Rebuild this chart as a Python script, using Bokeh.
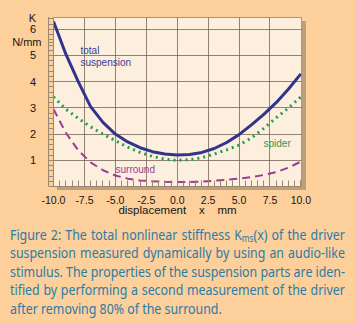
import numpy as np
from bokeh.plotting import figure
from bokeh.models import Range1d, FixedTicker, NumeralTickFormatter, Label, Div, InlineStyleSheet
from bokeh.layouts import column
from bokeh.embed import file_html
from bokeh.resources import INLINE

# stiffness K (N/mm) versus displacement x (mm)
disp = [-10, -9, -8, -7, -6, -5, -4, -3, -2, -1, 0, 1, 2, 3, 4, 5, 6, 7, 8, 9, 10]
k_total = [6.30, 5.05, 4.00, 3.05, 2.45, 2.00, 1.70, 1.48, 1.33, 1.24, 1.20,
           1.22, 1.30, 1.45, 1.68, 1.98, 2.35, 2.75, 3.20, 3.72, 4.30]
k_spider = [3.42, 2.95, 2.60, 2.28, 2.00, 1.75, 1.50, 1.30, 1.15, 1.04, 1.00,
            1.02, 1.10, 1.24, 1.40, 1.58, 1.85, 2.22, 2.62, 3.00, 3.42]
k_surround = [2.95, 2.05, 1.38, 0.92, 0.62, 0.42, 0.30, 0.23, 0.20, 0.18, 0.17,
              0.17, 0.19, 0.22, 0.26, 0.30, 0.36, 0.44, 0.55, 0.72, 0.95]

x_ticks = [-10, -7.5, -5, -2.5, 0, 2.5, 5, 7.5, 10]
y_ticks = [1, 2, 3, 4, 5, 6]
# unit caption sits in the tick-label column of the y axis
y_unit_ticks = {5.5: "N/mm", 6.42: "K\u2002"}

PEACH = "#FDCF9B"
CREAM = "#FCEFDE"
BROWN = "#9c8870"
SHADOW = "#bd9f7e"
FONT = "Liberation Sans"
EN = "\u2002"
NB = "\u00a0"

p = figure(width=355, height=220, x_range=Range1d(-10, 10.05), y_range=Range1d(0, 6.45),
           output_backend="svg", toolbar_location=None,
           min_border_left=53, min_border_right=54, min_border_top=17, min_border_bottom=34,
           background_fill_color=CREAM, border_fill_color=PEACH,
           outline_line_color="#a89880", outline_line_width=1)
p.title.visible = False

# drop shadow under the right and bottom edges of the frame
p.stylesheets = [InlineStyleSheet(css=f"""
:host::before {{ content: ""; position: absolute; z-index: 5; left: 302px; top: 21px;
                 width: 4px; height: 169px; background: {SHADOW}; }}
:host::after  {{ content: ""; position: absolute; z-index: 5; left: 57px; top: 187px;
                 width: 249px; height: 3px; background: {SHADOW}; }}
""")]

# grid
p.xgrid.ticker = FixedTicker(ticks=x_ticks[1:-1])
p.ygrid.ticker = FixedTicker(ticks=y_ticks)
p.grid.grid_line_color = "#6e5e50"
p.grid.grid_line_alpha = 0.75
p.grid.grid_line_width = 1

# x axis: ticks point into the frame
xa = p.xaxis[0]
xa.ticker = FixedTicker(ticks=x_ticks, minor_ticks=list(np.arange(-10, 10.01, 0.5)))
xa.formatter = NumeralTickFormatter(format="0.0")
xa.major_tick_in = 6
xa.major_tick_out = 0
xa.minor_tick_in = 6
xa.minor_tick_out = 0
xa.major_label_standoff = 9
xa.major_label_text_font_size = "10.5px"
xa.axis_label = f"displacement{NB*4}x{NB*4}mm"
xa.axis_label_text_font = FONT
xa.axis_label_text_font_size = "11.5px"
xa.axis_label_text_font_style = "normal"
xa.axis_label_text_color = "#151515"
xa.axis_label_standoff = -3

# y axis: ruler-like ticks outside the frame
ya = p.yaxis[0]
ya.ticker = FixedTicker(ticks=y_ticks + list(y_unit_ticks),
                        minor_ticks=list(np.arange(0, 6.45, 0.2)))
ya.major_label_overrides = {**{t: f"{t}{EN}" for t in y_ticks}, **y_unit_ticks}
ya.major_tick_in = 0
ya.major_tick_out = 5
ya.minor_tick_in = 0
ya.minor_tick_out = 5
ya.major_label_standoff = 7
ya.major_label_text_font_size = "11px"

for ax in (xa, ya):
    ax.axis_line_color = BROWN
    ax.major_tick_line_color = BROWN
    ax.minor_tick_line_color = BROWN
    ax.major_label_text_font = FONT
    ax.major_label_text_color = "#151515"

# curves
p.line(disp, k_surround, line_color="#9b3c99", line_width=2, line_dash="8 5")
p.line(disp, k_spider, line_color="#1f9e4e", line_width=3, line_dash="2 4")
p.line(disp, k_total, line_color="#33338c", line_width=3)

def lab(text, x, y, color):
    p.add_layout(Label(x=x, y=y, x_units="screen", y_units="screen", text=text,
                       text_font=FONT, text_font_size="10px", text_color=color,
                       text_align="left", text_baseline="middle"))

# offsets are from the frame's lower-left corner
lab("total", 27, 136, "#3a3a96")
lab("suspension", 27, 124, "#3a3a96")
lab("spider", 210, 43, "#2a9a50")
lab("surround", 62, 17, "#9b3c99")

# caption: justified lines in a condensed face
SUB = '<sub style="font-size:10px;vertical-align:-2px;line-height:0">ms</sub>'
lines = [
    "Figure 2: The total nonlinear stiffness Kms(x) of the driver",
    "suspension measured dynamically by using an audio-like",
    "stimulus. The properties of the suspension parts are iden-",
    "tified by performing a second measurement of the driver",
    "after removing 80% of the surround.",
]

def markup(word):
    return word.replace("Kms(", f"K{SUB}(")

row_style = "width:406px;transform:scaleX(0.825);transform-origin:0 0;white-space:nowrap;"
rows = []
for i, t in enumerate(lines):
    if i < len(lines) - 1:
        words = "".join(f"<span>{markup(w)}</span>" for w in t.split(" "))
        rows.append(f'<div style="display:flex;justify-content:space-between;{row_style}">{words}</div>')
    else:
        rows.append(f'<div style="{row_style}">{markup(t)}</div>')
html = ('<div style="padding:5px 0 0 10px;font-family:\'Noto Sans\';font-size:15px;'
        'line-height:18.4px;color:#2a7ca6;">' + "".join(rows) + "</div>")
caption = Div(text=html, width=355, height=103, styles={"background-color": PEACH, "margin": "0"})

# outer edge of the ruler strip beside the y axis
layout = column(p, caption, spacing=0, styles={"background-color": PEACH},
                stylesheets=[InlineStyleSheet(css=f"""
:host::before {{ content: ""; position: absolute; z-index: 5; left: 48px; top: 17px;
                 width: 1px; height: 169px; background: {BROWN}; }}
""")])
open("out.html", "w").write(file_html(layout, INLINE))
